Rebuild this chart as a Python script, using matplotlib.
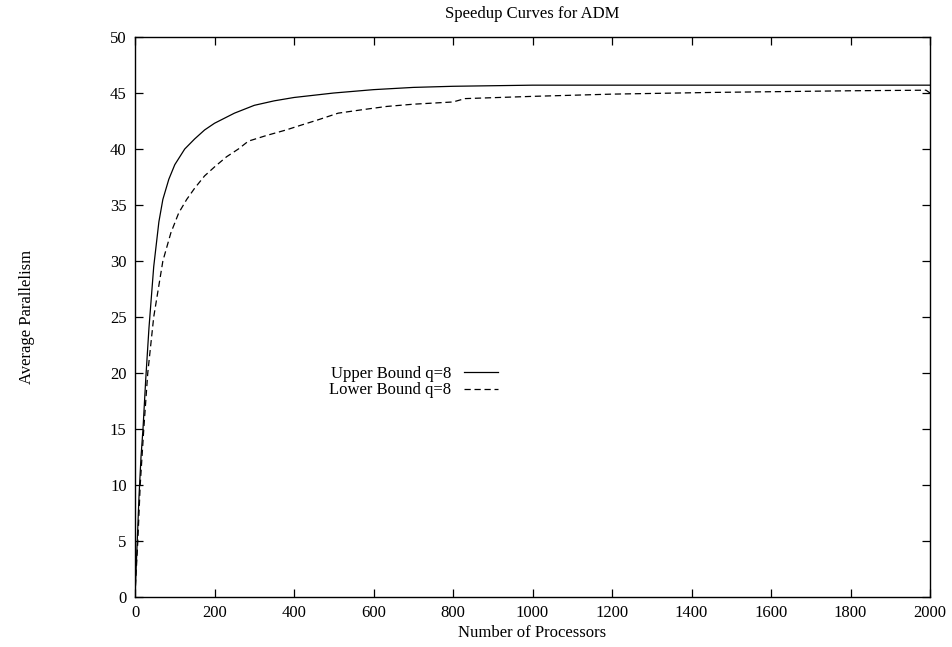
import matplotlib
matplotlib.use('Agg')
import matplotlib.pyplot as plt

plt.rcParams.update({'font.size': 12, 'font.family': ['Liberation Serif', 'DejaVu Serif']})

# values
upper_x = [1, 5, 10, 15, 20, 27, 35, 47, 60, 70, 85, 100, 125, 150, 175, 200, 250, 300, 350, 400,
           500, 600, 700, 800, 900, 1000, 2000]
upper_y = [1, 4.5, 9, 12.5, 15, 19.5, 24, 29.5, 33.5, 35.5, 37.3, 38.6, 40.0, 40.9, 41.7, 42.3, 43.2,
           43.9, 44.3, 44.6, 45.0, 45.3, 45.5, 45.6, 45.65, 45.7, 45.7]

lower_x = [1, 7, 13, 22, 32, 47, 70, 90, 110, 130, 150, 175, 200, 230, 260, 285, 330, 380, 415, 460,
           511, 570, 633, 700, 800, 830, 1000, 1200, 1450, 1800, 1990, 2000]
lower_y = [1, 5, 10, 15, 20, 25, 30, 32.5, 34.3, 35.5, 36.5, 37.6, 38.4, 39.3, 40.0, 40.7, 41.2, 41.7,
           42.1, 42.6, 43.2, 43.5, 43.8, 44.0, 44.2, 44.5, 44.7, 44.9, 45.05, 45.2, 45.25, 45.0]

x_ticks = list(range(0, 2001, 200))
y_ticks = list(range(0, 51, 5))

fig = plt.figure(figsize=(9.53, 6.47), dpi=100)
ax = fig.add_axes([0.1417, 0.0773, 0.8342, 0.8655])

ax.plot(upper_x, upper_y, color='black', lw=0.9, label='Upper Bound q=8')
ax.plot(lower_x, lower_y, color='black', lw=0.9, linestyle=(0, (5, 3)), label='Lower Bound q=8')

ax.set_xlim(0, 2000)
ax.set_ylim(0, 50)
ax.set_xticks(x_ticks)
ax.set_yticks(y_ticks)
ax.tick_params(direction='in', length=6, width=0.9, top=True, right=True, pad=6)
for s in ax.spines.values():
    s.set_linewidth(1.0)

ax.set_title('Speedup Curves for ADM', fontsize=12, pad=14)
ax.set_xlabel('Number of Processors', labelpad=3)
ax.set_ylabel('Average Parallelism', labelpad=54)

ax.legend(loc='center', bbox_to_anchor=(0.350, 0.384), frameon=False, markerfirst=False,
          handlelength=2.0, handletextpad=0.8, labelspacing=0.05, borderpad=0)

fig.savefig('out.png', dpi=100)
